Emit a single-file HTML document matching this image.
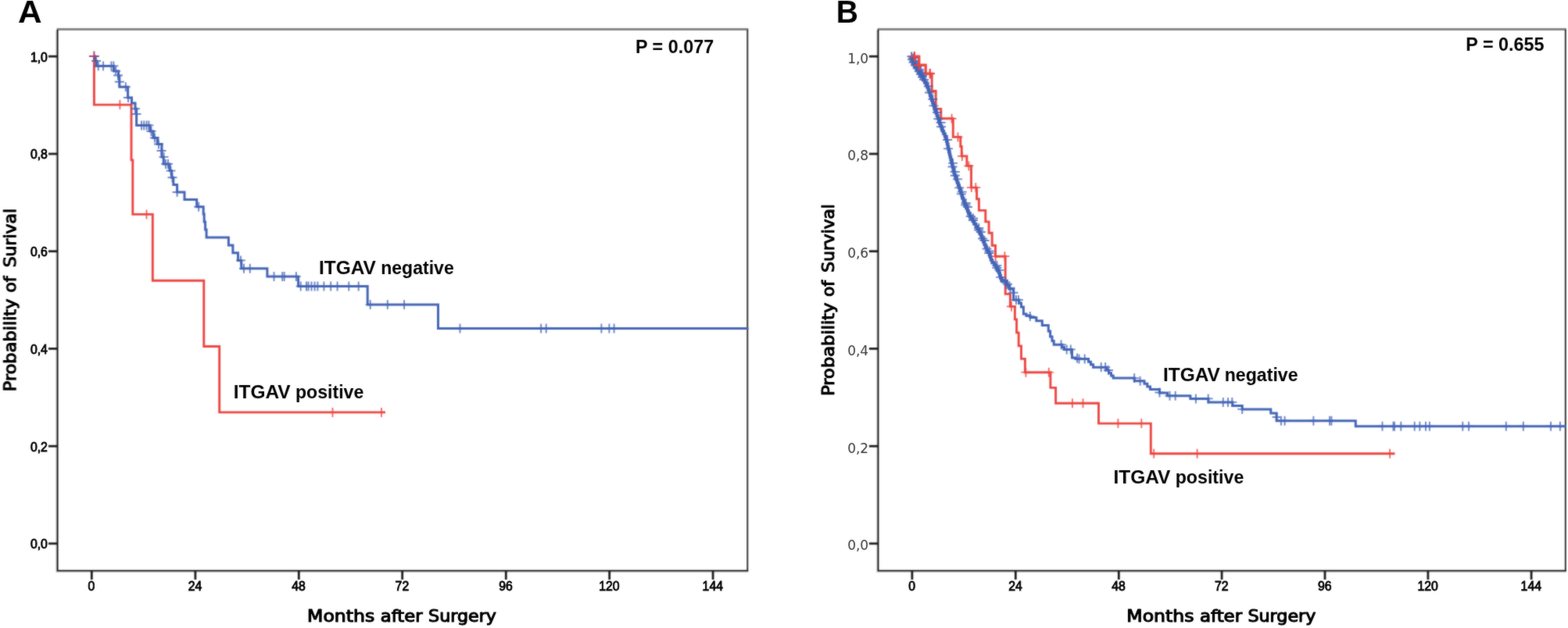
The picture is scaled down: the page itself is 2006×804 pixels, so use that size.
<!DOCTYPE html>
<html lang="en"><head><meta charset="utf-8"><title>Kaplan-Meier survival curves by ITGAV status</title>
<style>
html,body{margin:0;padding:0;background:#fff;}
body{width:2006px;height:804px;overflow:hidden;}
svg{display:block;}
text{font-family:"Liberation Sans","DejaVu Sans",sans-serif;fill:#000;}
.pl{font-weight:bold;}
.lb{font-weight:bold;fill:#000;}
.ax{font-family:"DejaVu Sans Condensed","DejaVu Sans","Liberation Sans",sans-serif;stroke:#000;stroke-width:1.05px;stroke-linejoin:round;fill:#000;}
.tk{font-size:15.8px;}
.tkb{font-family:"Liberation Sans","DejaVu Sans",sans-serif;stroke:#000;stroke-width:0.8px;fill:#000;}

.tkl{font-size:17px;font-family:"DejaVu Sans","Liberation Sans",sans-serif;fill:#333;}
</style></head>
<body>
<svg width="2006" height="804" viewBox="0 0 2006 804">
<defs><filter id="soft" x="0" y="0" width="2006" height="804" filterUnits="userSpaceOnUse" color-interpolation-filters="sRGB"><feGaussianBlur in="SourceGraphic" stdDeviation="0.8" result="b"/><feComposite in="SourceGraphic" in2="b" operator="arithmetic" k1="0" k2="0.5" k3="0.5" k4="0"/></filter><filter id="softt" x="0" y="0" width="2006" height="804" filterUnits="userSpaceOnUse" color-interpolation-filters="sRGB"><feGaussianBlur in="SourceGraphic" stdDeviation="0.8" result="b"/><feComposite in="SourceGraphic" in2="b" operator="arithmetic" k1="0" k2="0.7" k3="0.3" k4="0"/></filter></defs>
<rect x="0" y="0" width="2006" height="804" fill="#ffffff"/>
<g filter="url(#soft)">
<rect x="0" y="0" width="2006" height="804" fill="#ffffff"/>
<path d="M72.10,38.95 V732.10 H957.30" stroke="#cecece" stroke-width="1.6" fill="none" stroke-linejoin="miter"/>
<path d="M72.60,37.45 H957.30" stroke="#858585" stroke-width="3" fill="none"/>
<path d="M956.3,37.75 V730.6" stroke="#333333" stroke-width="2" fill="none"/>
<path d="M73.6,38.05 V730.6 H957.30" stroke="#101010" stroke-width="1.85" fill="none" stroke-linejoin="miter"/>
<path d="M1122.00,38.95 V732.10 H2003.80" stroke="#cecece" stroke-width="1.6" fill="none" stroke-linejoin="miter"/>
<path d="M1122.50,37.45 H2003.80" stroke="#858585" stroke-width="3" fill="none"/>
<path d="M2002.8,37.75 V730.6" stroke="#333333" stroke-width="2" fill="none"/>
<path d="M1123.5,38.05 V730.6 H2003.80" stroke="#101010" stroke-width="1.85" fill="none" stroke-linejoin="miter"/>
<path d="M62.0,72.2 H73.6" stroke="#1c1c1c" stroke-width="2.8"/>
<path d="M62.0,197.0 H73.6" stroke="#1c1c1c" stroke-width="2.8"/>
<path d="M62.0,321.7 H73.6" stroke="#1c1c1c" stroke-width="2.8"/>
<path d="M62.0,446.4 H73.6" stroke="#1c1c1c" stroke-width="2.8"/>
<path d="M62.0,571.2 H73.6" stroke="#1c1c1c" stroke-width="2.8"/>
<path d="M62.0,695.9 H73.6" stroke="#1c1c1c" stroke-width="2.8"/>
<path d="M1111.9,72.2 H1123.5" stroke="#1c1c1c" stroke-width="2.8"/>
<path d="M1111.9,197.0 H1123.5" stroke="#1c1c1c" stroke-width="2.8"/>
<path d="M1111.9,321.7 H1123.5" stroke="#1c1c1c" stroke-width="2.8"/>
<path d="M1111.9,446.4 H1123.5" stroke="#1c1c1c" stroke-width="2.8"/>
<path d="M1111.9,571.2 H1123.5" stroke="#1c1c1c" stroke-width="2.8"/>
<path d="M1111.9,695.9 H1123.5" stroke="#1c1c1c" stroke-width="2.8"/>
<path d="M117.3,730.6 V742.0" stroke="#1c1c1c" stroke-width="2.8"/>
<path d="M249.9,730.6 V742.0" stroke="#1c1c1c" stroke-width="2.8"/>
<path d="M382.3,730.6 V742.0" stroke="#1c1c1c" stroke-width="2.8"/>
<path d="M514.7,730.6 V742.0" stroke="#1c1c1c" stroke-width="2.8"/>
<path d="M647.3,730.6 V742.0" stroke="#1c1c1c" stroke-width="2.8"/>
<path d="M779.7,730.6 V742.0" stroke="#1c1c1c" stroke-width="2.8"/>
<path d="M912.1,730.6 V742.0" stroke="#1c1c1c" stroke-width="2.8"/>
<path d="M1166.9,730.6 V742.0" stroke="#1c1c1c" stroke-width="2.8"/>
<path d="M1299.3,730.6 V742.0" stroke="#1c1c1c" stroke-width="2.8"/>
<path d="M1431.3,730.6 V742.0" stroke="#1c1c1c" stroke-width="2.8"/>
<path d="M1563.1,730.6 V742.0" stroke="#1c1c1c" stroke-width="2.8"/>
<path d="M1695.0,730.6 V742.0" stroke="#1c1c1c" stroke-width="2.8"/>
<path d="M1826.9,730.6 V742.0" stroke="#1c1c1c" stroke-width="2.8"/>
<path d="M1959.1,730.6 V742.0" stroke="#1c1c1c" stroke-width="2.8"/>
<path d="M120.4,71.0 L120.4,134.1 L168.0,134.1 L168.0,204.9 L169.8,204.9 L169.8,274.4 L195.3,274.4 L195.3,359.2 L260.8,359.2 L260.8,443.5 L280.7,443.5 L280.7,527.9 L493.0,527.9" fill="none" stroke="#eb4440" stroke-width="2.9" stroke-linejoin="miter" stroke-linecap="butt"/>
<path d="M153.4,128.1V140.1M187.5,268.4V280.4M425.5,521.9V533.9M488.0,521.9V533.9" fill="none" stroke="#eb4440" stroke-width="1.8" stroke-opacity="0.85"/>
<path d="M120.4,72.1 L121.6,72.1 L121.6,78.0 L123.4,78.0 L123.4,84.4 L145.6,84.4 L145.6,90.9 L151.6,90.9 L151.6,98.0 L152.8,98.0 L152.8,111.3 L163.6,111.3 L163.6,125.0 L168.5,125.0 L168.5,132.0 L173.0,132.0 L173.0,139.3 L174.6,139.3 L174.6,160.4 L192.0,160.4 L192.0,168.0 L196.0,168.0 L196.0,176.5 L201.3,176.5 L201.3,184.5 L207.0,184.5 L207.0,200.9 L209.2,200.9 L209.2,209.9 L217.0,209.9 L217.0,218.6 L219.6,218.6 L219.6,227.3 L221.8,227.3 L221.8,236.4 L226.6,236.4 L226.6,246.0 L236.0,246.0 L236.0,255.4 L251.7,255.4 L251.7,264.8 L260.2,264.8 L260.2,274.0 L261.2,274.0 L261.2,284.0 L262.6,284.0 L262.6,294.0 L264.1,294.0 L264.1,304.0 L292.4,304.0 L292.4,313.9 L297.9,313.9 L297.9,323.7 L304.5,323.7 L304.5,333.4 L308.8,333.4 L308.8,343.8 L341.9,343.8 L341.9,353.9 L381.6,353.9 L381.6,366.4 L470.2,366.4 L470.2,389.9 L560.5,389.9 L560.5,420.4 L957.6,420.4" fill="none" stroke="#4363b5" stroke-width="3.0" stroke-linejoin="miter" stroke-linecap="butt"/>
<path d="M123.0,72.0V84.0M117.0,78.0H129.0M125.7,78.4V90.4M119.7,84.4H131.7M132.1,78.4V90.4M126.1,84.4H138.1M142.4,78.4V90.4M136.4,84.4H148.4M145.4,78.4V90.4M139.4,84.4H151.4M148.2,84.9V96.9M142.2,90.9H154.2M151.0,90.5V102.5M145.0,96.5H157.0M152.8,98.8V110.8M146.8,104.8H158.8M160.8,105.3V117.3M154.8,111.3H166.8M164.0,119.0V131.0M158.0,125.0H170.0M173.0,133.2V145.2M167.0,139.2H179.0M174.5,140.0V152.0M168.5,146.0H180.5M181.0,154.4V166.4M175.0,160.4H187.0M184.2,154.4V166.4M178.2,160.4H190.2M187.5,154.4V166.4M181.5,160.4H193.5M190.4,154.4V166.4M184.4,160.4H196.4M193.5,162.0V174.0M187.5,168.0H199.5M198.0,170.5V182.5M192.0,176.5H204.0M203.0,178.5V190.5M197.0,184.5H209.0M206.5,187.0V199.0M200.5,193.0H212.5M209.5,194.9V206.9M203.5,200.9H215.5M212.0,203.9V215.9M206.0,209.9H218.0M215.0,203.9V215.9M209.0,209.9H221.0M218.5,212.6V224.6M212.5,218.6H224.5M220.5,221.3V233.3M214.5,227.3H226.5M226.6,240.0V252.0M220.6,246.0H232.6M254.2,258.8V270.8M248.2,264.8H260.2M308.0,327.4V339.4M302.0,333.4H314.0M312.0,337.8V349.8M306.0,343.8H318.0M319.8,337.8V349.8M313.8,343.8H325.8M350.5,347.9V359.9M344.5,353.9H356.5M361.2,347.9V359.9M355.2,353.9H367.2M363.7,347.9V359.9M357.7,353.9H369.7M378.9,347.9V359.9M372.9,353.9H384.9M384.7,360.4V372.4M378.7,366.4H390.7M392.0,360.4V372.4M386.0,366.4H398.0M394.5,360.4V372.4M388.5,366.4H400.5M398.5,360.4V372.4M392.5,366.4H404.5M402.6,360.4V372.4M396.6,366.4H408.6M406.4,360.4V372.4M400.4,366.4H412.4M414.4,360.4V372.4M408.4,366.4H420.4M423.2,360.4V372.4M417.2,366.4H429.2M431.6,360.4V372.4M425.6,366.4H437.6M446.3,360.4V372.4M440.3,366.4H452.3M458.7,360.4V372.4M452.7,366.4H464.7M473.7,383.9V395.9M467.7,389.9H479.7M495.8,383.9V395.9M489.8,389.9H501.8M517.1,383.9V395.9M511.1,389.9H523.1M588.5,414.4V426.4M582.5,420.4H594.5M692.2,414.4V426.4M686.2,420.4H698.2M698.7,414.4V426.4M692.7,420.4H704.7M769.4,414.4V426.4M763.4,420.4H775.4M779.4,414.4V426.4M773.4,420.4H785.4M785.6,414.4V426.4M779.6,420.4H791.6" fill="none" stroke="#4363b5" stroke-width="1.9" stroke-opacity="0.8"/>
<path d="M120.4,65.6V78.6M113.9,72.1H126.9" fill="none" stroke="#a04472" stroke-width="2.0" stroke-opacity="1"/>
<path d="M1169.9,72.2 L1175.8,72.2 L1175.8,83.3 L1184.2,83.3 L1184.2,94.2 L1192.2,94.2 L1192.2,116.5 L1197.2,116.5 L1197.2,139.4 L1203.8,139.4 L1203.8,151.8 L1219.3,151.8 L1219.3,175.4 L1228.8,175.4 L1228.8,187.5 L1230.3,187.5 L1230.3,199.9 L1236.9,199.9 L1236.9,212.4 L1242.5,212.4 L1242.5,240.1 L1249.6,240.1 L1249.6,254.8 L1252.4,254.8 L1252.4,269.4 L1260.8,269.4 L1260.8,283.9 L1265.1,283.9 L1265.1,298.3 L1269.2,298.3 L1269.2,314.2 L1273.5,314.2 L1273.5,328.2 L1286.2,328.2 L1286.2,376.4 L1292.4,376.4 L1292.4,392.4 L1298.4,392.4 L1298.4,408.9 L1300.6,408.9 L1300.6,425.9 L1303.2,425.9 L1303.2,442.9 L1306.5,442.9 L1306.5,459.4 L1311.4,459.4 L1311.4,476.7 L1343.9,476.7 L1343.9,496.4 L1350.6,496.4 L1350.6,516.3 L1405.5,516.3 L1405.5,542.1 L1472.3,542.1 L1472.3,580.8 L1784.5,580.8" fill="none" stroke="#eb4440" stroke-width="2.9" stroke-linejoin="miter" stroke-linecap="butt"/>
<path d="M1217.6,145.8V157.8M1211.6,151.8H1223.6M1225.5,169.4V181.4M1219.5,175.4H1231.5M1230.9,193.9V205.9M1224.9,199.9H1236.9M1239.4,206.4V218.4M1233.4,212.4H1245.4M1242.8,234.1V246.1M1236.8,240.1H1248.8M1248.3,234.1V246.1M1242.3,240.1H1254.3M1273.7,322.2V334.2M1267.7,328.2H1279.7M1285.4,322.2V334.2M1279.4,328.2H1291.4M1293.9,386.4V398.4M1287.9,392.4H1299.9M1312.4,470.7V482.7M1306.4,476.7H1318.4M1341.8,470.7V482.7M1335.8,476.7H1347.8M1371.9,510.3V522.3M1385.5,510.3V522.3M1430.4,536.1V548.1M1460.3,536.1V548.1M1476.2,574.8V586.8M1531.6,574.8V586.8M1778.1,574.8V586.8" fill="none" stroke="#eb4440" stroke-width="1.8" stroke-opacity="0.85"/>
<path d="M1167.3,72.2 L1167.3,75.5 L1167.9,75.5 L1167.9,78.8 L1169.0,78.8 L1169.0,82.1 L1170.6,82.1 L1170.6,85.4 L1173.0,85.4 L1173.0,88.7 L1175.2,88.7 L1175.2,92.0 L1177.2,92.0 L1177.2,95.3 L1179.0,95.3 L1179.0,98.6 L1181.0,98.6 L1181.0,101.9 L1182.9,101.9 L1182.9,105.2 L1185.0,105.2 L1185.0,108.5 L1186.2,108.5 L1186.2,111.8 L1187.5,111.8 L1187.5,115.1 L1188.7,115.1 L1188.7,118.4 L1189.8,118.4 L1189.8,121.7 L1190.8,121.7 L1190.8,125.0 L1191.9,125.0 L1191.9,128.3 L1193.0,128.3 L1193.0,131.6 L1194.1,131.6 L1194.1,134.9 L1195.2,134.9 L1195.2,138.2 L1196.3,138.2 L1196.3,141.5 L1197.4,141.5 L1197.4,144.8 L1198.6,144.8 L1198.6,148.1 L1199.7,148.1 L1199.7,151.4 L1200.9,151.4 L1200.9,154.7 L1202.0,154.7 L1202.0,158.0 L1203.1,158.0 L1203.1,161.3 L1204.5,161.3 L1204.5,164.6 L1205.8,164.6 L1205.8,167.9 L1207.2,167.9 L1207.2,171.2 L1208.8,171.2 L1208.8,174.5 L1210.0,174.5 L1210.0,177.8 L1211.0,177.8 L1211.0,181.1 L1211.8,181.1 L1211.8,184.4 L1212.6,184.4 L1212.6,187.7 L1213.3,187.7 L1213.3,191.0 L1214.0,191.0 L1214.0,194.3 L1214.8,194.3 L1214.8,197.6 L1215.5,197.6 L1215.5,200.9 L1216.3,200.9 L1216.3,204.2 L1217.1,204.2 L1217.1,207.5 L1218.0,207.5 L1218.0,210.8 L1218.8,210.8 L1218.8,214.1 L1219.6,214.1 L1219.6,217.4 L1220.3,217.4 L1220.3,220.7 L1221.1,220.7 L1221.1,224.0 L1222.3,224.0 L1222.3,227.3 L1223.5,227.3 L1223.5,230.6 L1224.6,230.6 L1224.6,233.9 L1225.8,233.9 L1225.8,237.2 L1227.0,237.2 L1227.0,240.5 L1228.1,240.5 L1228.1,243.8 L1229.2,243.8 L1229.2,247.1 L1230.3,247.1 L1230.3,250.4 L1231.3,250.4 L1231.3,253.7 L1232.5,253.7 L1232.5,257.0 L1233.7,257.0 L1233.7,260.3 L1235.0,260.3 L1235.0,263.6 L1236.6,263.6 L1236.6,266.9 L1237.8,266.9 L1237.8,270.2 L1239.0,270.2 L1239.0,273.5 L1240.7,273.5 L1240.7,276.8 L1242.5,276.8 L1242.5,280.1 L1244.5,280.1 L1244.5,283.4 L1246.5,283.4 L1246.5,286.7 L1248.5,286.7 L1248.5,290.0 L1250.4,290.0 L1250.4,293.3 L1252.2,293.3 L1252.2,296.6 L1253.9,296.6 L1253.9,299.9 L1255.3,299.9 L1255.3,303.2 L1256.8,303.2 L1256.8,306.5 L1258.2,306.5 L1258.2,309.8 L1259.3,309.8 L1259.3,313.1 L1260.7,313.1 L1260.7,316.4 L1262.2,316.4 L1262.2,319.7 L1263.9,319.7 L1263.9,323.0 L1265.6,323.0 L1265.6,326.3 L1266.9,326.3 L1266.9,329.6 L1267.8,329.6 L1267.8,332.9 L1269.3,332.9 L1269.3,336.2 L1272.2,336.2 L1272.2,339.5 L1274.4,339.5 L1274.4,342.8 L1276.1,342.8 L1276.1,346.1 L1277.8,346.1 L1277.8,349.4 L1279.0,349.4 L1279.0,352.7 L1280.0,352.7 L1280.0,356.0 L1281.7,356.0 L1281.7,359.3 L1284.0,359.3 L1284.0,359.8 L1284.4,359.8" fill="none" stroke="#4363b5" stroke-width="3.9" stroke-linejoin="miter" stroke-linecap="butt"/>
<path d="M1284.4,359.8 L1288.0,359.8 L1288.0,365.0 L1291.0,365.0 L1291.0,370.0 L1296.7,370.0 L1296.7,383.9 L1303.9,383.9 L1303.9,388.0 L1306.5,388.0 L1306.5,392.9 L1309.4,392.9 L1309.4,401.9 L1313.0,401.9 L1313.0,404.0 L1318.0,404.0 L1318.0,406.4 L1325.8,406.4 L1325.8,410.8 L1333.3,410.8 L1333.3,416.6 L1341.3,416.6 L1341.3,424.0 L1343.6,424.0 L1343.6,431.0 L1346.0,431.0 L1346.0,436.5 L1348.2,436.5 L1348.2,441.2 L1358.8,441.2 L1358.8,444.4 L1361.5,444.4 L1361.5,447.4 L1371.5,447.4 L1371.5,457.9 L1376.0,457.9 L1376.0,459.4 L1392.5,459.4 L1392.5,463.2 L1395.5,463.2 L1395.5,466.7 L1398.6,466.7 L1398.6,470.2 L1415.5,470.2 L1415.5,474.0 L1418.5,474.0 L1418.5,477.5 L1421.5,477.5 L1421.5,481.0 L1424.2,481.0 L1424.2,484.1 L1451.3,484.1 L1451.3,487.7 L1464.0,487.7 L1464.0,491.3 L1467.8,491.3 L1467.8,494.9 L1471.5,494.9 L1471.5,498.5 L1483.5,498.5 L1483.5,503.0 L1493.5,503.0 L1493.5,506.7 L1522.9,506.7 L1522.9,510.4 L1545.9,510.4 L1545.9,514.9 L1576.8,514.9 L1576.8,519.4 L1589.2,519.4 L1589.2,523.9 L1625.8,523.9 L1625.8,528.9 L1633.1,528.9 L1633.1,538.8 L1734.3,538.8 L1734.3,545.7 L2004.0,545.7" fill="none" stroke="#4363b5" stroke-width="3.0" stroke-linejoin="miter" stroke-linecap="butt"/>
<path d="M1182.2,96.0V108.0M1176.2,102.0H1188.2M1187.8,104.5V116.5M1181.8,110.5H1193.8M1189.0,112.5V124.5M1183.0,118.5H1195.0M1193.4,121.0V133.0M1187.4,127.0H1199.4M1194.5,129.4V141.4M1188.5,135.4H1200.5M1199.1,138.0V150.0M1193.1,144.0H1205.1M1200.4,146.3V158.3M1194.4,152.3H1206.4M1203.6,151.0V163.0M1197.6,157.0H1209.6M1204.1,156.3V168.3M1198.1,162.3H1210.1M1212.1,173.0V185.0M1206.1,179.0H1218.1M1213.1,184.4V196.4M1207.1,190.4H1219.1M1219.1,202.9V214.9M1213.1,208.9H1225.1M1218.6,207.5V219.5M1212.6,213.5H1224.6M1221.7,214.0V226.0M1215.7,220.0H1227.7M1221.8,218.7V230.7M1215.8,224.7H1227.8M1225.0,223.4V235.4M1219.0,229.4H1231.0M1227.3,234.4V246.4M1221.3,240.4H1233.3M1230.6,239.6V251.6M1224.6,245.6H1236.6M1229.9,242.4V254.4M1223.9,248.4H1235.9M1235.7,254.0V266.0M1229.7,260.0H1241.7M1235.3,256.5V268.5M1229.3,262.5H1241.3M1238.0,259.0V271.0M1232.0,265.0H1244.0M1241.9,271.0V283.0M1235.9,277.0H1247.9M1245.0,273.5V285.5M1239.0,279.5H1251.0M1244.9,276.0V288.0M1238.9,282.0H1250.9M1252.3,286.0V298.0M1246.3,292.0H1258.3M1252.1,288.5V300.5M1246.1,294.5H1258.1M1254.8,291.0V303.0M1248.8,297.0H1260.8M1257.1,299.5V311.5M1251.1,305.5H1263.1M1259.5,302.0V314.0M1253.5,308.0H1265.5M1262.5,312.6V324.6M1256.5,318.6H1268.5M1265.6,315.5V327.5M1259.6,321.5H1271.6M1265.3,318.0V330.0M1259.3,324.0H1271.3M1275.4,333.9V345.9M1269.4,339.9H1281.4M1275.4,336.9V348.9M1269.4,342.9H1281.4M1278.5,339.9V351.9M1272.5,345.9H1284.5M1280.1,348.9V360.9M1274.1,354.9H1286.1M1286.5,355.5V367.5M1280.5,361.5H1292.5M1289.0,357.8V369.8M1283.0,363.8H1295.0M1292.5,362.8V374.8M1286.5,368.8H1298.5M1296.5,368.8V380.8M1290.5,374.8H1302.5M1300.0,377.9V389.9M1294.0,383.9H1306.0M1303.0,377.9V389.9M1297.0,383.9H1309.0M1317.8,399.0V411.0M1311.8,405.0H1323.8M1357.6,435.2V447.2M1351.6,441.2H1363.6M1364.7,441.4V453.4M1358.7,447.4H1370.7M1369.8,441.4V453.4M1363.8,447.4H1375.8M1378.0,452.5V464.5M1372.0,458.5H1384.0M1380.5,453.4V465.4M1374.5,459.4H1386.5M1387.7,453.4V465.4M1381.7,459.4H1393.7M1408.7,464.1V476.1M1402.7,470.1H1414.7M1414.2,464.1V476.1M1408.2,470.1H1420.2M1418.0,468.0V480.0M1412.0,474.0H1424.0M1451.2,478.1V490.1M1445.2,484.1H1457.2M1458.6,481.7V493.7M1452.6,487.7H1464.6M1483.5,496.5V508.5M1477.5,502.5H1489.5M1496.5,500.7V512.7M1490.5,506.7H1502.5M1503.7,500.7V512.7M1497.7,506.7H1509.7M1529.9,504.4V516.4M1523.9,510.4H1535.9M1545.7,504.4V516.4M1539.7,510.4H1551.7M1564.8,508.9V520.9M1558.8,514.9H1570.8M1571.0,508.9V520.9M1565.0,514.9H1577.0M1576.3,508.9V520.9M1570.3,514.9H1582.3M1589.2,517.9V529.9M1583.2,523.9H1595.2M1633.6,528.0V540.0M1627.6,534.0H1639.6M1638.9,532.8V544.8M1632.9,538.8H1644.9M1643.6,532.8V544.8M1637.6,538.8H1649.6M1680.4,532.8V544.8M1674.4,538.8H1686.4M1701.1,532.8V544.8M1695.1,538.8H1707.1M1703.4,532.8V544.8M1697.4,538.8H1709.4M1768.5,539.7V551.7M1762.5,545.7H1774.5M1782.5,539.7V551.7M1776.5,545.7H1788.5M1784.0,539.7V551.7M1778.0,545.7H1790.0M1792.3,539.7V551.7M1786.3,545.7H1798.3M1809.7,539.7V551.7M1803.7,545.7H1815.7M1816.4,539.7V551.7M1810.4,545.7H1822.4M1824.0,539.7V551.7M1818.0,545.7H1830.0M1828.9,539.7V551.7M1822.9,545.7H1834.9M1871.3,539.7V551.7M1865.3,545.7H1877.3M1879.1,539.7V551.7M1873.1,545.7H1885.1M1926.8,539.7V551.7M1920.8,545.7H1932.8M1948.8,539.7V551.7M1942.8,545.7H1954.8M1984.0,539.7V551.7M1978.0,545.7H1990.0M1995.9,539.7V551.7M1989.9,545.7H2001.9" fill="none" stroke="#4363b5" stroke-width="1.9" stroke-opacity="0.8"/>
<path d="M1166.1,66.6V77.8M1160.5,72.2H1171.7M1168.3,68.5V79.7M1162.7,74.1H1173.9M1166.8,70.4V81.6M1161.2,76.0H1172.4M1169.2,72.3V83.5M1163.6,77.9H1174.8M1168.3,74.2V85.4M1162.7,79.8H1173.9M1171.0,76.1V87.3M1165.4,81.7H1176.6M1170.5,78.0V89.2M1164.9,83.6H1176.1M1173.7,79.9V91.1M1168.1,85.5H1179.3M1173.2,81.8V93.0M1167.6,87.4H1178.8M1176.2,83.7V94.9M1170.6,89.3H1181.8M1175.5,85.6V96.8M1169.9,91.2H1181.1M1178.4,87.5V98.7M1172.8,93.1H1184.0M1177.7,89.4V100.6M1172.1,95.0H1183.3M1180.5,91.3V102.5M1174.9,96.9H1186.1M1179.9,93.2V104.4M1174.3,98.8H1185.5" fill="none" stroke="#4363b5" stroke-width="1.9" stroke-opacity="0.9"/>
<path d="M1169.9,72.2 L1175.8,72.2 L1175.8,83.3 L1184.2,83.3 L1184.2,94.2 L1192.2,94.2" fill="none" stroke="#eb4440" stroke-width="2.9" stroke-linejoin="miter" stroke-linecap="butt"/>
<path d="M1169.9,66.0V78.4M1163.7,72.2H1176.1M1175.8,77.1V89.5M1169.6,83.3H1182.0M1189.8,88.0V100.4M1183.6,94.2H1196.0" fill="none" stroke="#eb4440" stroke-width="2.3" stroke-opacity="1"/>
</g>
<g filter="url(#softt)">
<text x="60.9" y="78.5" text-anchor="end" class="tk tkb">1,0</text>
<text x="60.9" y="203.3" text-anchor="end" class="tk tkb">0,8</text>
<text x="60.9" y="328.0" text-anchor="end" class="tk tkb">0,6</text>
<text x="60.9" y="452.7" text-anchor="end" class="tk tkb">0,4</text>
<text x="60.9" y="577.5" text-anchor="end" class="tk tkb">0,2</text>
<text x="60.9" y="702.2" text-anchor="end" class="tk tkb">0,0</text>
<text x="1111.2" y="80.6" text-anchor="end" class="tk tkl">1,0</text>
<text x="1111.2" y="205.4" text-anchor="end" class="tk tkl">0,8</text>
<text x="1111.2" y="330.1" text-anchor="end" class="tk tkl">0,6</text>
<text x="1111.2" y="454.8" text-anchor="end" class="tk tkl">0,4</text>
<text x="1111.2" y="579.6" text-anchor="end" class="tk tkl">0,2</text>
<text x="1111.2" y="704.3" text-anchor="end" class="tk tkl">0,0</text>
<text x="117.0" y="756.1" text-anchor="middle" class="tk tkb">0</text>
<text x="249.6" y="756.1" text-anchor="middle" class="tk tkb">24</text>
<text x="382.0" y="756.1" text-anchor="middle" class="tk tkb">48</text>
<text x="514.4" y="756.1" text-anchor="middle" class="tk tkb">72</text>
<text x="647.0" y="756.1" text-anchor="middle" class="tk tkb">96</text>
<text x="779.4" y="756.1" text-anchor="middle" class="tk tkb">120</text>
<text x="911.8" y="756.1" text-anchor="middle" class="tk tkb">144</text>
<text x="1166.6" y="756.1" text-anchor="middle" class="tk tkb">0</text>
<text x="1299.0" y="756.1" text-anchor="middle" class="tk tkb">24</text>
<text x="1431.0" y="756.1" text-anchor="middle" class="tk tkb">48</text>
<text x="1562.8" y="756.1" text-anchor="middle" class="tk tkb">72</text>
<text x="1694.7" y="756.1" text-anchor="middle" class="tk tkb">96</text>
<text x="1826.6" y="756.1" text-anchor="middle" class="tk tkb">120</text>
<text x="1958.8" y="756.1" text-anchor="middle" class="tk tkb">144</text>
<text y="28.8" class="pl" style="font-size:40.4px"><tspan x="23.14" textLength="30.61" lengthAdjust="spacingAndGlyphs">A</tspan></text>
<text y="28.8" class="pl" style="font-size:40.4px"><tspan x="1069.65" textLength="28.30" lengthAdjust="spacingAndGlyphs">B</tspan></text>
<text y="67.8" class="lb" style="font-size:24.0px"><tspan x="812.88" textLength="100.29" lengthAdjust="spacingAndGlyphs">P = 0.077</tspan></text>
<text y="64.5" class="lb" style="font-size:24.0px"><tspan x="1875.28" textLength="100.23" lengthAdjust="spacingAndGlyphs">P = 0.655</tspan></text>
<text y="350.6" class="lb" style="font-size:23.8px"><tspan x="407.91" textLength="73.05" lengthAdjust="spacingAndGlyphs">ITGAV</tspan> <tspan x="487.20" textLength="93.54" lengthAdjust="spacingAndGlyphs">negative</tspan></text>
<text y="510.4" class="lb" style="font-size:23.8px"><tspan x="298.71" textLength="72.95" lengthAdjust="spacingAndGlyphs">ITGAV</tspan> <tspan x="377.90" textLength="87.49" lengthAdjust="spacingAndGlyphs">positive</tspan></text>
<text y="488.1" class="lb" style="font-size:23.8px"><tspan x="1487.91" textLength="72.95" lengthAdjust="spacingAndGlyphs">ITGAV</tspan> <tspan x="1566.69" textLength="93.95" lengthAdjust="spacingAndGlyphs">negative</tspan></text>
<text y="619.3" class="lb" style="font-size:23.8px"><tspan x="1424.41" textLength="72.95" lengthAdjust="spacingAndGlyphs">ITGAV</tspan> <tspan x="1503.69" textLength="87.59" lengthAdjust="spacingAndGlyphs">positive</tspan></text>
<text y="796.0" class="ax" style="font-size:22.0px"><tspan x="393.04" textLength="86.20" lengthAdjust="spacingAndGlyphs">Months</tspan> <tspan x="486.81" textLength="53.72" lengthAdjust="spacingAndGlyphs">after</tspan> <tspan x="548.12" textLength="86.81" lengthAdjust="spacingAndGlyphs">Surgery</tspan></text>
<text y="796.0" class="ax" style="font-size:22.0px"><tspan x="1441.34" textLength="86.10" lengthAdjust="spacingAndGlyphs">Months</tspan> <tspan x="1535.00" textLength="54.13" lengthAdjust="spacingAndGlyphs">after</tspan> <tspan x="1596.42" textLength="86.91" lengthAdjust="spacingAndGlyphs">Surgery</tspan></text>
<text transform="translate(20.3,0) rotate(-90)" class="ax" style="font-size:22.0px"><tspan x="-501.15" textLength="118.61" lengthAdjust="spacingAndGlyphs">Probability</tspan> <tspan x="-374.52" textLength="21.07" lengthAdjust="spacingAndGlyphs">of</tspan> <tspan x="-342.36" textLength="75.53" lengthAdjust="spacingAndGlyphs">Surival</tspan></text>
<text transform="translate(1066.6,0) rotate(-90)" class="ax" style="font-size:22.0px"><tspan x="-506.86" textLength="119.43" lengthAdjust="spacingAndGlyphs">Probability</tspan> <tspan x="-380.01" textLength="20.97" lengthAdjust="spacingAndGlyphs">of</tspan> <tspan x="-348.65" textLength="87.53" lengthAdjust="spacingAndGlyphs">Survival</tspan></text>
</g>
</svg>
</body></html>
